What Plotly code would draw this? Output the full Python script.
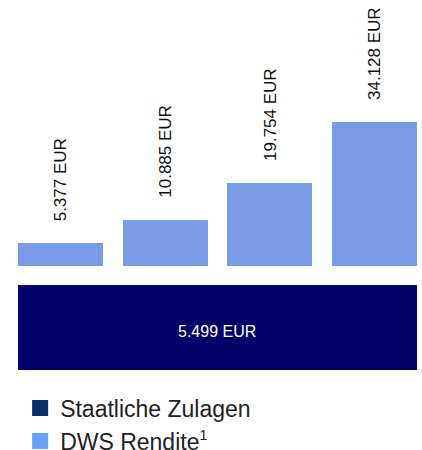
import plotly.graph_objects as go

# Data
categories = [0, 1, 2, 3]
dws_values = [5377, 10885, 19754, 34128]
dws_labels = ["5.377 EUR", "10.885 EUR", "19.754 EUR", "34.128 EUR"]
zulagen_value = 5499
zulagen_label = "5.499 EUR"
legend_names = ["Staatliche Zulagen",
                "DWS Rendite<sup><span style='font-size:14px'>1</span></sup>"]

bar_color = "#7A9BE8"
navy = "#000066"
legend_colors = ["#0A2F6E", "#66A3FF"]
font_family = "Arial, Liberation Sans, sans-serif"
bar_width = 0.812

fig = go.Figure()

fig.add_trace(go.Bar(
    x=categories, y=dws_values, width=bar_width,
    marker=dict(color=bar_color, line=dict(width=0)),
    showlegend=False, hoverinfo="skip",
    xaxis="x", yaxis="y",
))

# wide navy block spanning all categories (drawn on its own axis, not to scale)
span_center = (categories[0] + categories[-1]) / 2
span_width = (categories[-1] - categories[0]) + bar_width
fig.add_trace(go.Bar(
    x=[span_center], y=[zulagen_value], width=[span_width],
    marker=dict(color=navy, line=dict(width=0)),
    showlegend=False, hoverinfo="skip",
    xaxis="x", yaxis="y2",
))
fig.add_annotation(
    x=span_center, y=zulagen_value / 2, xref="x", yref="y2", text=zulagen_label,
    showarrow=False, xanchor="center", yanchor="middle", yshift=-4,
    font=dict(size=16, color="white", family=font_family),
)

# legend entries
for name, col in zip(legend_names, legend_colors):
    fig.add_trace(go.Scatter(
        x=[None], y=[None], mode="markers", name=name,
        marker=dict(symbol="square", size=16, color=col),
        xaxis="x", yaxis="y",
    ))

for c, v, lab in zip(categories, dws_values, dws_labels):
    fig.add_annotation(
        x=c, y=v, xref="x", yref="y", text=lab, showarrow=False,
        textangle=-90, yanchor="bottom", xanchor="center", yshift=20,
        font=dict(size=17, color="#111111", family=font_family),
    )

fig.update_layout(
    width=422, height=450,
    margin=dict(l=0, r=0, t=0, b=0, pad=0, autoexpand=False),
    paper_bgcolor="white", plot_bgcolor="white",
    font=dict(family=font_family),
    xaxis=dict(range=[-0.578, 3.454], domain=[0, 1], visible=False, fixedrange=True),
    yaxis=dict(range=[0, 63042], domain=[0.4089, 1.0], visible=False, fixedrange=True),
    yaxis2=dict(range=[0, zulagen_value], domain=[0.1778, 0.3667], visible=False,
                fixedrange=True, anchor="x"),
    bargap=0,
    legend=dict(
        x=0.0477, y=0.141, xanchor="left", yanchor="top",
        font=dict(size=23, color="#222222", family=font_family),
        bgcolor="rgba(0,0,0,0)", itemclick=False, itemdoubleclick=False,
        tracegroupgap=0,
    ),
    showlegend=True,
)

fig.write_html(
    "out.html",
    config={"displayModeBar": False},
    post_script="document.body.style.margin='0';document.body.style.overflow='hidden';",
)
